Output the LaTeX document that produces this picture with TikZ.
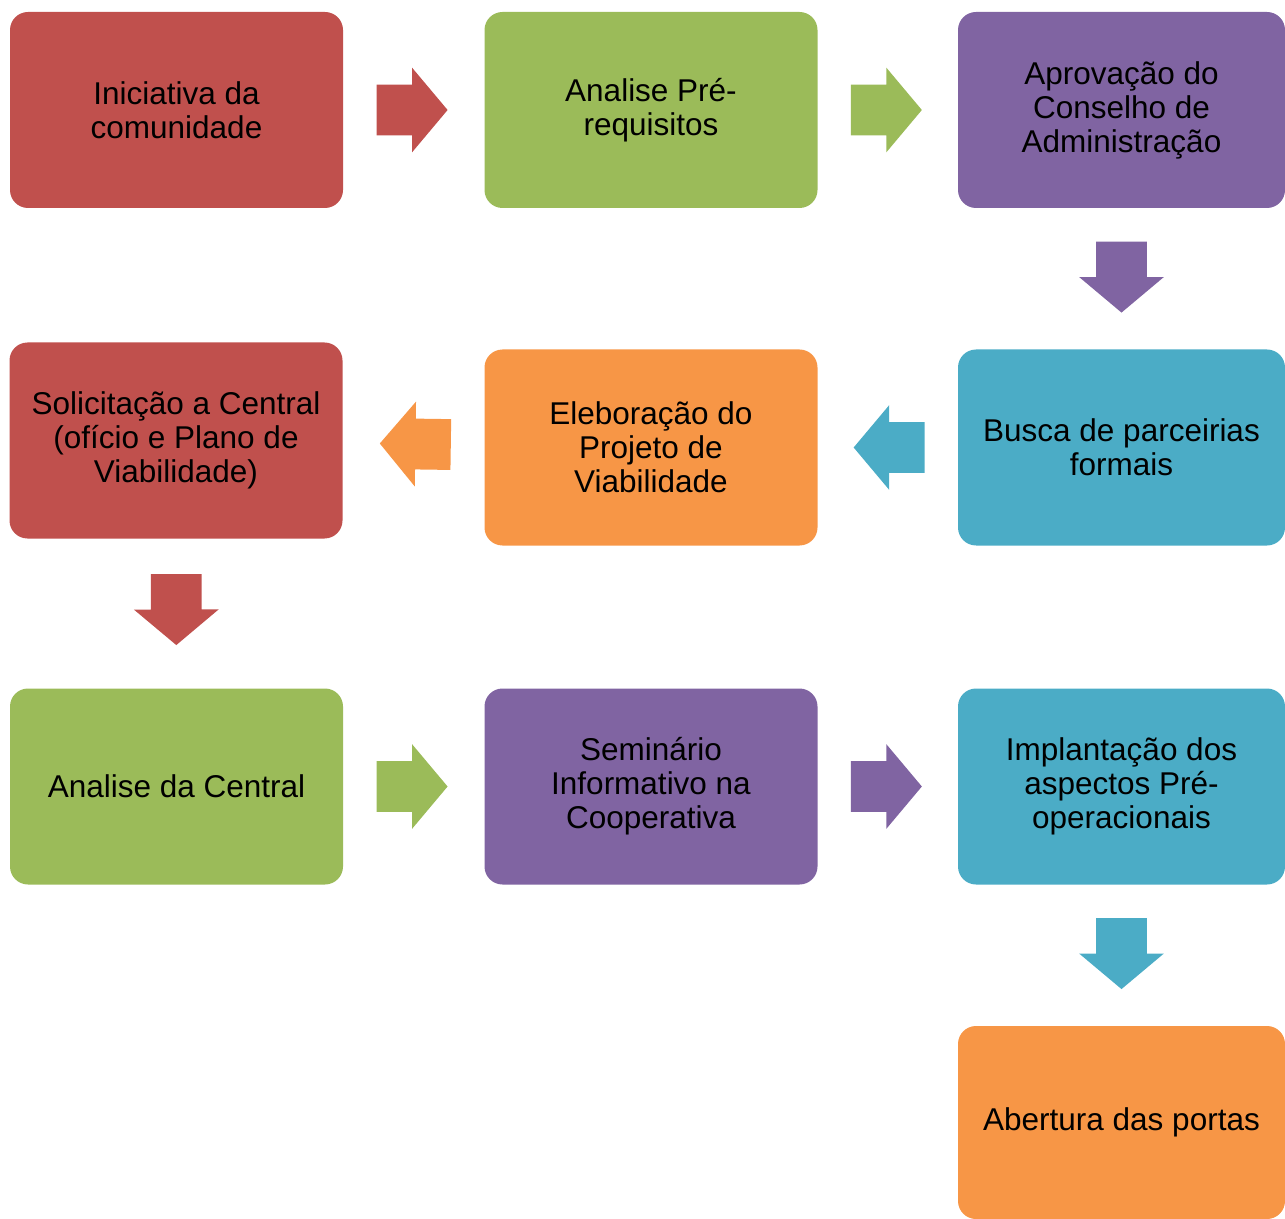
\documentclass[tikz,border=0pt]{standalone}
\usepackage{fontspec}
\setmainfont{Liberation Sans}
\usetikzlibrary{shapes.arrows}

\definecolor{cred}{HTML}{C0504D}
\definecolor{cgreen}{HTML}{9BBB59}
\definecolor{cpurple}{HTML}{8064A2}
\definecolor{cteal}{HTML}{4BACC6}
\definecolor{corange}{HTML}{F79646}

\begin{document}
\begin{tikzpicture}[
        x=0.5pt, y=-0.5pt, % coordenadas em pixels, y para baixo
        etapa/.style={rounded corners=9pt, minimum width=166.5pt, minimum height=98pt,
            inner sep=0pt, align=center, font=\fontsize{15.75}{17}\selectfont}, % caixas
        etapad/.style={etapa, minimum width=163.5pt}, % coluna da direita
        seta/.style={single arrow, inner xsep=0pt, inner ysep=12.5pt, minimum height=35.5pt,
            single arrow head extend=8.5pt, single arrow tip angle=100,
            sloped, allow upside down, anchor=tail, pos=0.233}, % setas largas
    ]
    \useasboundingbox (0,0) rectangle (1285,1219);

    % primeira linha
    \node[etapa, fill=cred] (n1) at (176.5,110) {Iniciativa da\\comunidade};
    \node[etapa, fill=cgreen] (n2) at (651,110) {Analise Pré-\\requisitos};
    \node[etapad, fill=cpurple] (n3) at (1121.5,110) {Aprovação do\\Conselho de\\Administração};

    % segunda linha
    \node[etapad, fill=cteal] (n4) at (1121.5,447.5) {Busca de parceirias\\formais};
    \node[etapa, fill=corange] (n5) at (651,447.5) {Eleboração do\\Projeto de\\Viabilidade};
    \node[etapa, fill=cred] (n6) at (176,440.5) {Solicitação a Central\\(ofício e Plano de\\Viabilidade)};

    % terceira linha
    \node[etapa, fill=cgreen] (n7) at (176.5,786.5) {Analise da Central};
    \node[etapa, fill=cpurple] (n8) at (651,786.5) {Seminário\\Informativo na\\Cooperativa};
    \node[etapad, fill=cteal] (n9) at (1121.5,786.5) {Implantação dos\\aspectos Pré-\\operacionais};

    % ultima
    \node[etapad, fill=corange, minimum height=96.5pt] (n10) at (1121.5,1122.5) {Abertura das portas};

    % setas
    \path (n1) -- node[seta, fill=cred] (s1) {} (n2);
    \path (n2) -- node[seta, fill=cgreen] (s2) {} (n3);
    \path (n3) -- node[seta, fill=cpurple] (s3) {} (n4);
    \path (n4) -- node[seta, fill=cteal] (s4) {} (n5);
    \path (n5) -- node[seta, fill=corange] (s5) {} (n6);
    \path (n6) -- node[seta, fill=cred] (s6) {} (n7);
    \path (n7) -- node[seta, fill=cgreen] (s7) {} (n8);
    \path (n8) -- node[seta, fill=cpurple] (s8) {} (n9);
    \path (n9) -- node[seta, fill=cteal] (s9) {} (n10);
\end{tikzpicture}
\end{document}
